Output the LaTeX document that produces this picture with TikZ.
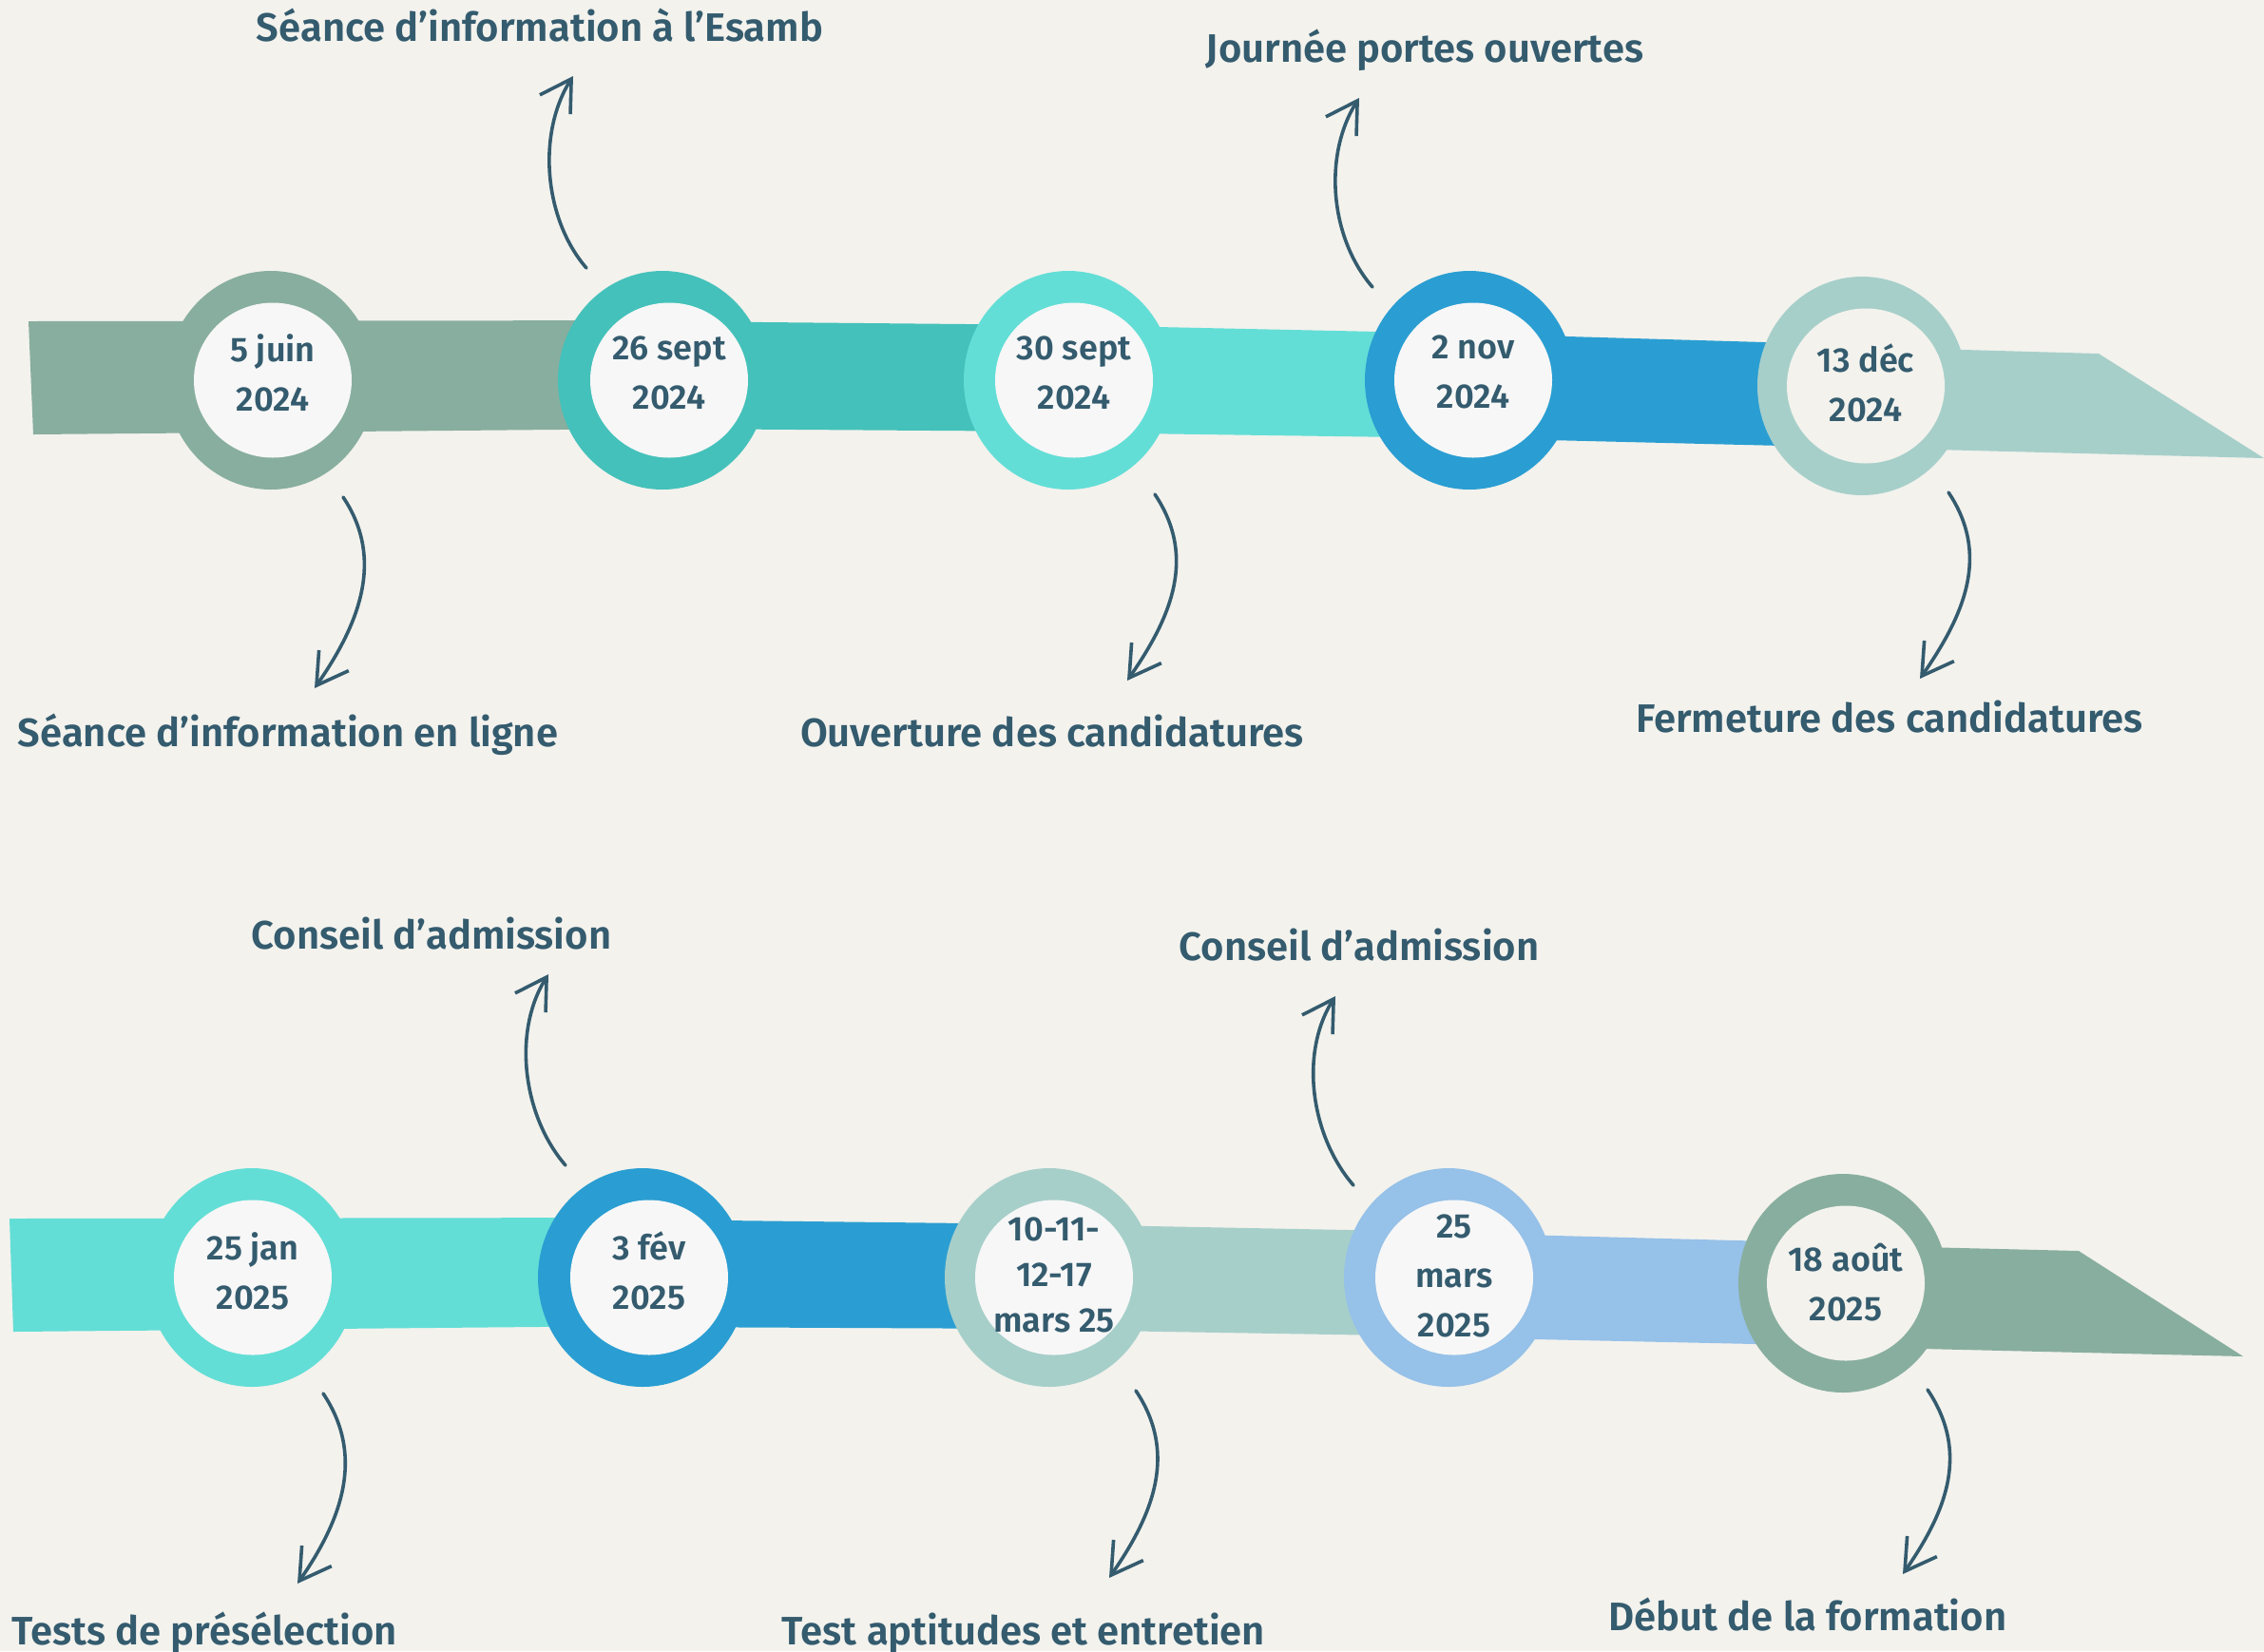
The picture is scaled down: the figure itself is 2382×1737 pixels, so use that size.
\documentclass[tikz,border=0pt]{standalone}
\usepackage{fontspec}
\setmainfont{Fira Sans SemiBold}
\usetikzlibrary{shapes.geometric,arrows.meta}

\definecolor{paper}{HTML}{F3F2ED}
\definecolor{ink}{HTML}{345B6E}
\definecolor{sage}{HTML}{88AE9F}
\definecolor{teal}{HTML}{44C1BA}
\definecolor{aqua}{HTML}{63DED6}
\definecolor{ocean}{HTML}{2A9ED2}
\definecolor{mist}{HTML}{A7CFCA}
\definecolor{sky}{HTML}{96C1E8}
\definecolor{snow}{HTML}{F7F7F7}

\begin{document}
\begin{tikzpicture}[x=0.5pt, y=-0.5pt]
   \tikzstyle{ring}=[ellipse, inner sep=0pt, minimum width=110pt, minimum height=115pt]
   \tikzstyle{hole}=[ellipse, inner sep=0pt, minimum width=83pt, minimum height=81.5pt, fill=snow]
   \tikzstyle{date}=[text=ink, align=center, inner sep=0pt, font=\fontsize{18}{26}\selectfont]
   \tikzstyle{caption}=[text=ink, anchor=base, inner sep=0pt, font=\fontsize{20.9}{26}\selectfont]
   \tikzstyle{pointer}=[draw=ink, line width=1.8pt, line cap=round, -{Straight Barb[length=16pt, width=19pt]}]
   \tikzstyle{downbend}=[to path={.. controls +(45,67) and +(45,-65) .. (\tikztotarget)}]
   \tikzstyle{upbend}=[to path={.. controls +(-45,-52) and +(-38,60) .. (\tikztotarget)}]

\fill[paper] (0,0) rectangle (2382,1737);
\useasboundingbox (0,0) rectangle (2382,1737);

\fill[sage]  (30,338) -- (697,337) -- (697,451) -- (35,457) -- cycle;
\fill[teal]  (697,338) -- (1124,342) -- (1124,454) -- (697,451) -- cycle;
\fill[aqua]  (1124,342) -- (1546,351) -- (1546,461) -- (1124,455) -- cycle;
\fill[ocean] (1546,351) -- (1959,363) -- (1959,471) -- (1546,461) -- cycle;
\fill[mist]  (1959,365) -- (2208,372) -- (2382,482) -- (1959,471) -- cycle;

\fill[aqua]  (10,1282) -- (676,1281) -- (676,1395) -- (14,1401) -- cycle;
\fill[ocean] (676,1283) -- (1105,1288) -- (1105,1398) -- (676,1396) -- cycle;
\fill[mist]  (1105,1288) -- (1524,1296) -- (1524,1406) -- (1105,1399) -- cycle;
\fill[sky]   (1524,1297) -- (1939,1308) -- (1939,1416) -- (1524,1407) -- cycle;
\fill[sage]  (1939,1310) -- (2187,1316) -- (2360,1427) -- (1939,1417) -- cycle;

\node[ring, fill=sage]  (jun) at (285,400) {};
\node[ring, fill=teal]  (sepa) at (697,400) {};
\node[ring, fill=aqua]  (sepb) at (1124,400) {};
\node[ring, fill=ocean] (nov) at (1546,400) {};
\node[ring, fill=mist]  (dec) at (1959,406) {};
\node[ring, fill=aqua]  (jan) at (265,1344) {};
\node[ring, fill=ocean] (feb) at (676,1344) {};
\node[ring, fill=mist]  (mara) at (1104,1344) {};
\node[ring, fill=sky]   (marb) at (1524,1344) {};
\node[ring, fill=sage]  (aug) at (1939,1350) {};

\node[hole] (junh) at (287,400) {};
\node[hole] (sepah) at (704,400) {};
\node[hole] (sepbh) at (1130,400) {};
\node[hole] (novh) at (1550,400) {};
\node[hole, fill=paper] (dech) at (1963,406) {};
\node[hole] (janh) at (266,1344) {};
\node[hole] (febh) at (683,1344) {};
\node[hole] (marah) at (1109,1344) {};
\node[hole] (marbh) at (1530,1344) {};
\node[hole, fill=paper] (augh) at (1942,1350) {};

\node[date] (junt) at (287,392) {5 juin\\2024};
\node[date] (sepat) at (704,392) {26 sept\\2024};
\node[date] (sepbt) at (1130,392) {30 sept\\2024};
\node[date] (novt) at (1550,391) {2 nov\\2024};
\node[date] (dect) at (1963,403) {13 déc\\2024};
\node[date] (jant) at (266,1337) {25 jan\\2025};
\node[date] (febt) at (683,1337) {3 fév\\2025};
\node[date, font=\fontsize{18}{24}\selectfont] (marat) at (1109,1341) {10-11-\\12-17\\mars 25};
\node[date] (marbt) at (1530,1342) {25\\mars\\2025};
\node[date] (augt) at (1942,1349) {18 août\\2025};

\node[caption] (esamb) at (568,43) {Séance d’information à l’Esamb};
\node[caption] (portes) at (1499,65) {Journée portes ouvertes};
\node[caption] (ligne) at (303,785) {Séance d’information en ligne};
\node[caption] (ouvert) at (1107,785) {Ouverture des candidatures};
\node[caption] (ferme) at (1988,770) {Fermeture des candidatures};
\node[caption] (conseila) at (454,998) {Conseil d’admission};
\node[caption] (conseilb) at (1430,1010) {Conseil d’admission};
\node[caption] (presel) at (215,1730) {Tests de présélection};
\node[caption] (aptit) at (1077,1730) {Test aptitudes et entretien};
\node[caption] (debut) at (1902,1715) {Début de la formation};

\coordinate (junfrom) at (361,523);   \coordinate (junto) at (331,724);
\coordinate (sepafrom) at (617,282);  \coordinate (sepato) at (603,80);
\coordinate (sepbfrom) at (1215,520); \coordinate (sepbto) at (1186,716);
\coordinate (novfrom) at (1444,302);  \coordinate (novto) at (1430,103);
\coordinate (decfrom) at (2050,518);  \coordinate (decto) at (2020,714);
\coordinate (janfrom) at (340,1466);  \coordinate (janto) at (313,1666);
\coordinate (febfrom) at (595,1226);  \coordinate (febto) at (577,1025);
\coordinate (marafrom) at (1195,1463); \coordinate (marato) at (1167,1660);
\coordinate (marbfrom) at (1424,1247); \coordinate (marbto) at (1405,1048);
\coordinate (augfrom) at (2028,1462); \coordinate (augto) at (2002,1656);

\draw[pointer, downbend] (junfrom) to (junto);
\draw[pointer, upbend] (sepafrom) to (sepato);
\draw[pointer, downbend] (sepbfrom) to (sepbto);
\draw[pointer, upbend] (novfrom) to (novto);
\draw[pointer, downbend] (decfrom) to (decto);
\draw[pointer, downbend] (janfrom) to (janto);
\draw[pointer, upbend] (febfrom) to (febto);
\draw[pointer, downbend] (marafrom) to (marato);
\draw[pointer, upbend] (marbfrom) to (marbto);
\draw[pointer, downbend] (augfrom) to (augto);

\end{tikzpicture}
\end{document}
